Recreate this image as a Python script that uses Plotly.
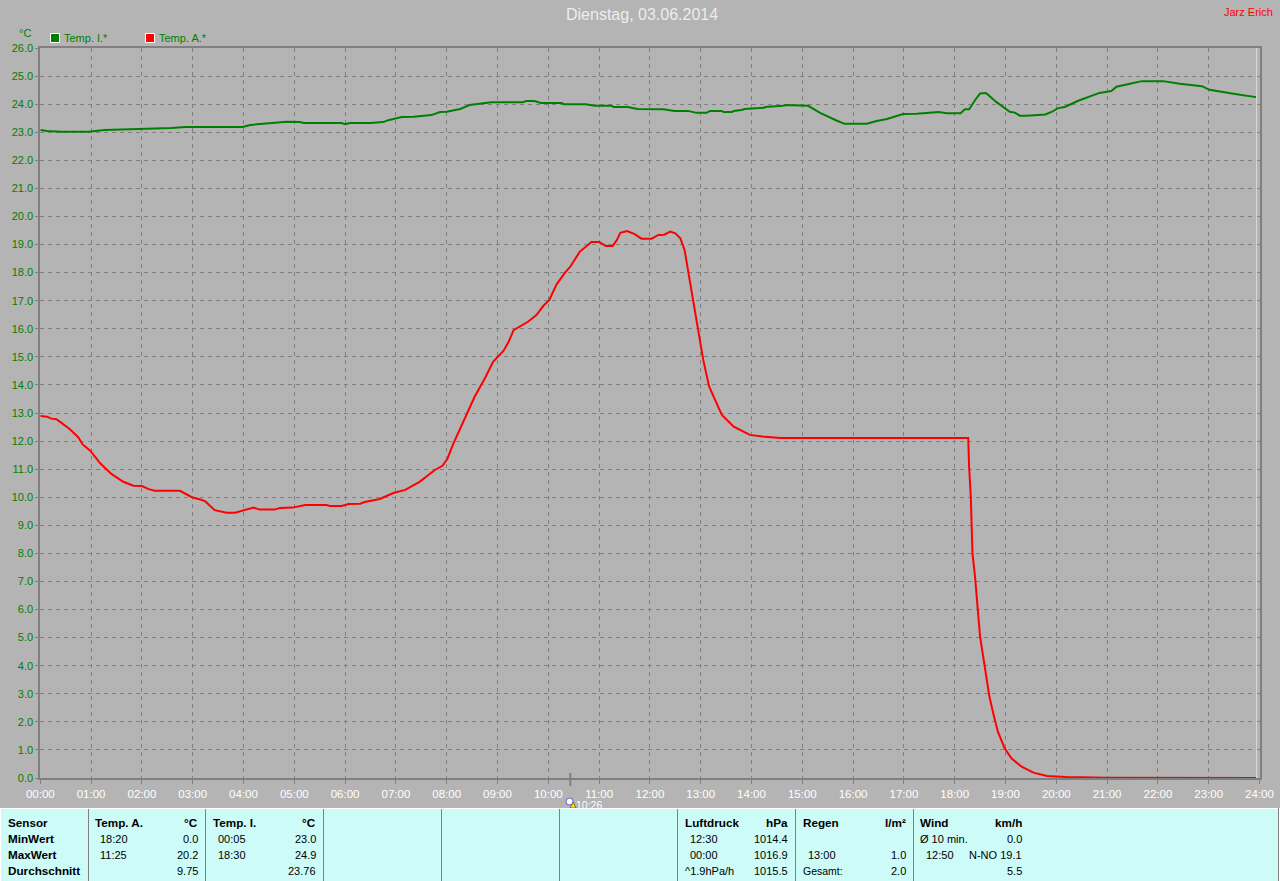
import plotly.graph_objects as go

# ---------- data ----------
hours = [f"{h:02d}:00" for h in range(25)]
hour_minutes = [h * 60 for h in range(25)]
y_ticks = list(range(0, 27))

inner_minutes = [0,8,25,57,76,126,155,171,239,248,275,291,307,311,356,360,366,390,405,411,427,441,462,472,480,496,507,
                 521,533,570,574,584,591,616,618,644,655,675,677,694,705,736,749,765,775,787,791,805,807,817,819,828,
                 832,855,856,877,881,907,913,921,941,950,976,988,1000,1019,1035,1061,1071,1087,1092,1097,1104,1110,
                 1117,1129,1145,1151,1157,1165,1187,1195,1202,1210,1226,1238,1251,1265,1271,1287,1301,1326,1346,1372,
                 1381,1413,1436]
inner_temp = [23.08,23.04,23.02,23.02,23.08,23.11,23.15,23.19,23.19,23.26,23.33,23.37,23.36,23.33,23.33,23.29,23.33,
              23.33,23.36,23.43,23.54,23.55,23.61,23.72,23.73,23.83,23.97,24.01,24.07,24.07,24.11,24.11,24.04,24.04,
              24.0,24.0,23.94,23.94,23.9,23.9,23.83,23.82,23.76,23.76,23.69,23.69,23.76,23.76,23.72,23.72,23.76,23.79,
              23.83,23.87,23.9,23.94,23.97,23.94,23.84,23.69,23.41,23.3,23.3,23.4,23.47,23.65,23.66,23.72,23.68,23.68,
              23.82,23.82,24.14,24.38,24.4,24.08,23.73,23.7,23.59,23.59,23.63,23.73,23.86,23.9,24.12,24.26,24.4,24.47,
              24.62,24.73,24.82,24.82,24.73,24.64,24.51,24.35,24.25]

outer_minutes = [0,8,13,19,25,35,45,50,59,65,71,84,98,110,120,128,135,165,179,189,195,206,220,230,240,252,259,277,283,
                 298,313,338,342,356,364,378,383,401,417,431,448,458,466,475,481,488,496,505,513,525,535,547,553,559,
                 567,576,586,594,601,610,620,626,637,651,660,668,676,681,685,693,702,710,722,730,737,744,750,756,761,
                 765,771,777,783,790,797,805,819,838,856,874,1096,1097,1099,1100,1101,1104,1106,1108,1110,1114,1117,
                 1121,1126,1131,1139,1147,1159,1173,1189,1212,1260,1436]
outer_temp = [12.89,12.87,12.8,12.78,12.65,12.42,12.13,11.88,11.66,11.44,11.2,10.83,10.55,10.41,10.4,10.29,10.23,10.23,
              10.0,9.92,9.85,9.54,9.45,9.45,9.54,9.63,9.56,9.56,9.62,9.63,9.72,9.72,9.69,9.69,9.76,9.77,9.83,9.94,10.15,
              10.26,10.55,10.79,10.97,11.12,11.38,11.92,12.45,13.05,13.58,14.23,14.83,15.21,15.53,15.95,16.1,16.25,
              16.49,16.81,17.02,17.59,18.01,18.21,18.74,19.09,19.09,18.95,18.95,19.16,19.42,19.48,19.37,19.21,19.21,
              19.34,19.35,19.46,19.4,19.22,18.8,18.09,17.02,15.95,14.89,13.94,13.46,12.93,12.51,12.22,12.15,12.11,12.11,
              11.09,10.02,9.0,8.0,7.17,6.58,5.74,5.03,4.2,3.61,2.9,2.24,1.65,1.06,0.7,0.4,0.19,0.07,0.04,0.01,0.0]

sunmark = "10:26"
sunmark_minute = 626
title = "Dienstag, 03.06.2014"
author = "Jarz Erich"
legend_names = ["Temp. I.*", "Temp. A.*"]

# ---------- style ----------
BG, PANEL, GRID, GREEN, RED = "#B4B4B4", "#CCFBF8", "#808080", "#008000", "#FF0000"
W, H = 1280, 881
FONT = "Liberation Sans"

def px(x): return x / W
def py(y): return 1 - y / H

fig = go.Figure()
fig.add_trace(go.Scatter(x=inner_minutes, y=inner_temp, name=legend_names[0],
                         mode="lines", line=dict(color=GREEN, width=2), showlegend=False))
fig.add_trace(go.Scatter(x=outer_minutes, y=outer_temp, name=legend_names[1],
                         mode="lines", line=dict(color=RED, width=2), showlegend=False))

shapes, ann = [], []

def text(x, y, s, color="black", size=11, anchor="left", bold=False):
    ann.append(dict(xref="paper", yref="paper", x=px(x), y=py(y), text=f"<b>{s}</b>" if bold else s,
                    showarrow=False, xanchor=anchor, yanchor="middle",
                    font=dict(color=color, size=size, family=FONT), borderpad=0, borderwidth=0))

def rect(x0, y0, x1, y1, fill, line=None, lw=0):
    shapes.append(dict(type="rect", xref="paper", yref="paper", x0=px(x0), x1=px(x1), y0=py(y0), y1=py(y1),
                       fillcolor=fill, line=dict(color=line or fill, width=lw), layer="above"))

def seg(x0, y0, x1, y1, color, w=1):
    shapes.append(dict(type="line", xref="paper", yref="paper", x0=px(x0), x1=px(x1), y0=py(y0), y1=py(y1),
                       line=dict(color=color, width=w), layer="above"))

# header
text(642, 15, title, "#EDEDED", 16, "center")
text(1273, 12, author, "#FF0000", 11, "right")
text(25, 33, "°C", GREEN, 11, "center")
for sx, tx, col_, name in [(50, 64, GREEN, legend_names[0]), (145, 159, RED, legend_names[1])]:
    rect(sx + 0.5, 33.5, sx + 9.5, 42.5, col_, "#FFFFFF", 1)
    text(tx, 38, name, GREEN, 11)

# thin inner right line, 10:26 marker
seg(1256.5, 48, 1256.5, 778, "#D8D8D8", 1)
shapes.append(dict(type="line", xref="x", yref="paper", x0=sunmark_minute, x1=sunmark_minute, y0=py(773), y1=py(786),
                   line=dict(color=GRID, width=2), layer="above"))
shapes.append(dict(type="circle", xref="paper", yref="paper", x0=px(566), x1=px(573), y0=py(798), y1=py(805),
                   fillcolor="#FFFFFF", line=dict(color="#6060C0", width=1), layer="above"))
shapes.append(dict(type="path", xref="paper", yref="paper", layer="above", fillcolor="#FFE000",
                   line=dict(color="#202020", width=0.5),
                   path=f"M {px(570)},{py(808)} L {px(576)},{py(808)} L {px(573)},{py(802)} Z"))
text(576, 804.5, sunmark, "#FFFFFF", 10.5)

# bottom panel
rect(0, 808, 1278, H, PANEL)
seg(0, 808.5, W, 808.5, "#FFFFFF", 1)
seg(0.5, 808, 0.5, H, "#FFFFFF", 1)
seg(1278.5, 808, 1278.5, H, "#808080", 1)
seg(1279.5, 808, 1279.5, H, "#FFFFFF", 1)
for x in [88, 205, 323, 441, 559, 677, 795, 913]:
    seg(x + 0.5, 809, x + 0.5, H, "#808080", 1)
rows = [823, 839, 855, 871]
for y, s in zip(rows, ["Sensor", "MinWert", "MaxWert", "Durchschnitt"]):
    text(8, y - 1, s, bold=True, size=11.7)

def col(x_head, head, x_right, unit, x_time, times, vals):
    text(x_head, rows[0] - 1, head, bold=True, size=11.7)
    text(x_right, rows[0] - 1, unit, anchor="right", bold=True, size=11.7)
    for y, t, v in zip(rows[1:], times, vals):
        if t: text(x_time, y, t)
        if v: text(x_right, y, v, anchor="right")

col(95, "Temp. A.", 198, "°C", 100, ["18:20", "11:25", ""], ["0.0", "20.2", "9.75"])
col(213, "Temp. I.", 316, "°C", 218, ["00:05", "18:30", ""], ["23.0", "24.9", "23.76"])
col(685, "Luftdruck", 788, "hPa", 690, ["12:30", "00:00", ""], ["1014.4", "1016.9", "1015.5"])
text(685, rows[3], "^1.9hPa/h")
col(803, "Regen", 906, "l/m²", 808, ["", "13:00", ""], ["", "1.0", "2.0"])
text(803, rows[3], "Gesamt:", size=10.5)
col(920, "Wind", 1022, "km/h", 926, ["", "12:50", ""], ["0.0", "N-NO 19.1", "5.5"])
text(920, rows[1], "Ø 10 min.")

fig.update_layout(
    width=W, height=H, autosize=False, margin=dict(l=0, r=0, t=0, b=0, autoexpand=False),
    paper_bgcolor=BG, plot_bgcolor=BG, showlegend=False, shapes=shapes, annotations=ann,
    font=dict(family=FONT, size=11),
    xaxis=dict(domain=[40.3 / W, 1259.5 / W], range=[0, 1440], tickmode="array",
               tickvals=hour_minutes, ticktext=hours,
               tickfont=dict(color="#FFFFFF", size=11.5, family=FONT), ticks="outside", ticklen=4, tickcolor=GRID,
               showgrid=True, gridcolor=GRID, griddash="4px,4px", gridwidth=1, zeroline=False,
               showline=True, linecolor=GRID, linewidth=2, mirror=True),
    yaxis=dict(domain=[py(778), py(48)], range=[0, 26], tickmode="array", tickvals=y_ticks,
               ticktext=[f"{v:.1f}" for v in y_ticks],
               tickfont=dict(color=GREEN, size=11, family=FONT), ticks="outside", ticklen=3, tickcolor=GRID,
               showgrid=True, gridcolor=GRID, griddash="4px,4px", gridwidth=1, zeroline=False,
               showline=True, linecolor=GRID, linewidth=2, mirror=True),
)
fig.write_html("out.html", config=dict(displayModeBar=False),
               post_script="document.body.style.margin='0';document.body.style.overflow='hidden';")
